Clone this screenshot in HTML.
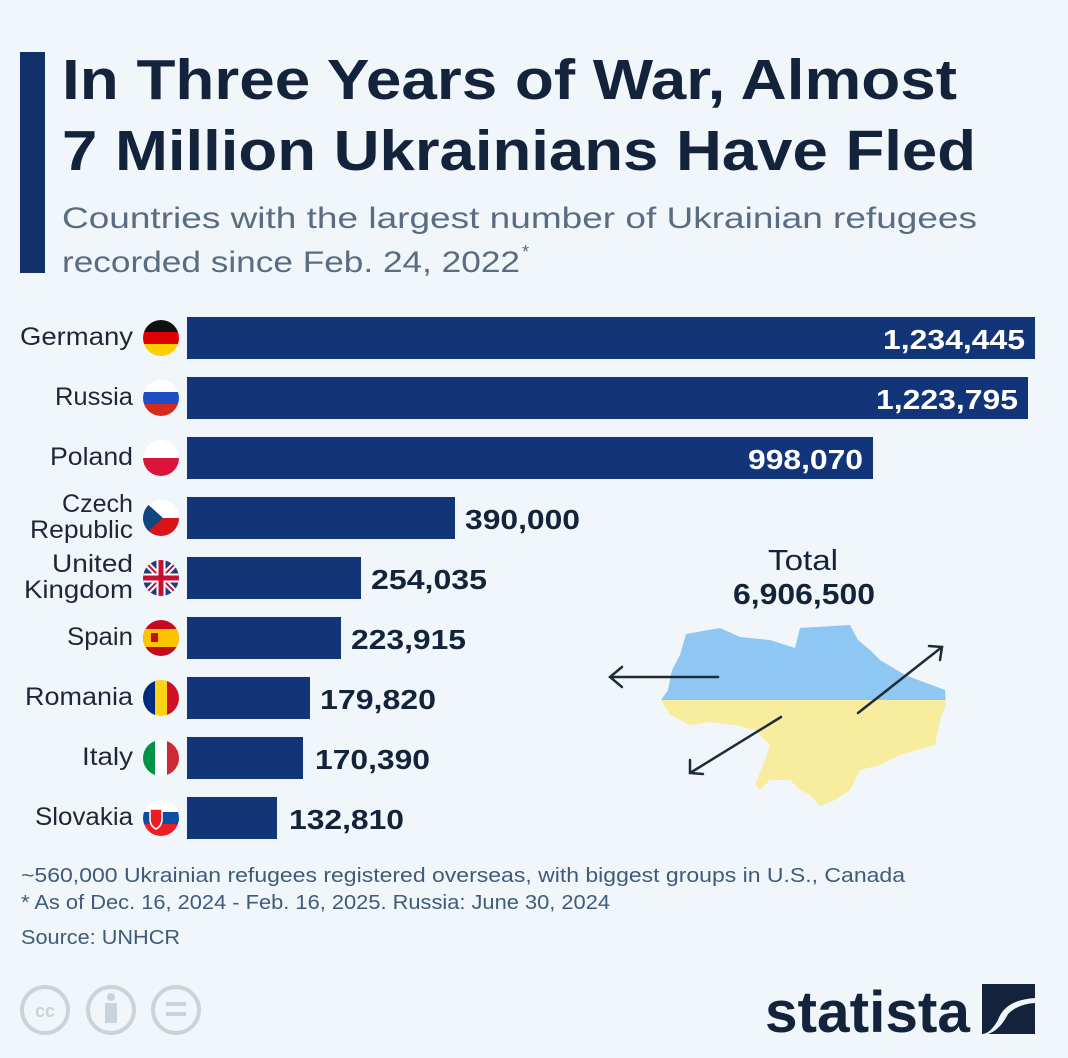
<!DOCTYPE html>
<html><head><meta charset="utf-8"><style>
html,body{margin:0;padding:0;background:#f1f6fa;}
svg{display:block;font-family:"Liberation Sans",sans-serif;}
</style></head><body>
<svg width="1068" height="1058" viewBox="0 0 1068 1058" xmlns="http://www.w3.org/2000/svg">
<rect width="1068" height="1058" fill="#f1f6fa"/>
<rect x="20" y="52" width="25" height="221" fill="#12316b"/>
<g fill="#14233c" font-weight="bold" font-size="57">
<text x="62" y="99" textLength="895" lengthAdjust="spacingAndGlyphs">In Three Years of War, Almost</text>
<text x="62" y="170" textLength="914" lengthAdjust="spacingAndGlyphs">7 Million Ukrainians Have Fled</text>
</g>
<g fill="#5a6c82" font-size="30">
<text x="62" y="228" textLength="915" lengthAdjust="spacingAndGlyphs">Countries with the largest number of Ukrainian refugees</text>
<text x="62" y="272" textLength="458" lengthAdjust="spacingAndGlyphs">recorded since Feb. 24, 2022</text>
<text x="522" y="258" font-size="18">*</text>
</g>
<g fill="#12357a">
<rect x="187" y="317" width="848" height="42"/>
<rect x="187" y="377" width="841" height="42"/>
<rect x="187" y="437" width="686" height="42"/>
<rect x="187" y="497" width="268" height="42"/>
<rect x="187" y="557" width="174" height="42"/>
<rect x="187" y="617" width="154" height="42"/>
<rect x="187" y="677" width="123" height="42"/>
<rect x="187" y="737" width="116" height="42"/>
<rect x="187" y="797" width="90" height="42"/>
</g>
<g font-weight="bold" font-size="28">
<text x="883" y="349" fill="#fff" textLength="142" lengthAdjust="spacingAndGlyphs">1,234,445</text>
<text x="876" y="409" fill="#fff" textLength="142" lengthAdjust="spacingAndGlyphs">1,223,795</text>
<text x="748" y="469" fill="#fff" textLength="115" lengthAdjust="spacingAndGlyphs">998,070</text>
<g fill="#14233c">
<text x="465" y="529" textLength="115" lengthAdjust="spacingAndGlyphs">390,000</text>
<text x="371" y="589" textLength="116" lengthAdjust="spacingAndGlyphs">254,035</text>
<text x="351" y="649" textLength="115" lengthAdjust="spacingAndGlyphs">223,915</text>
<text x="320" y="709" textLength="116" lengthAdjust="spacingAndGlyphs">179,820</text>
<text x="315" y="769" textLength="115" lengthAdjust="spacingAndGlyphs">170,390</text>
<text x="289" y="829" textLength="115" lengthAdjust="spacingAndGlyphs">132,810</text>
</g>
</g>
<g fill="#1c2838" font-size="25">
<text x="20" y="345" textLength="113" lengthAdjust="spacingAndGlyphs">Germany</text>
<text x="55" y="405" textLength="78" lengthAdjust="spacingAndGlyphs">Russia</text>
<text x="50" y="465" textLength="83" lengthAdjust="spacingAndGlyphs">Poland</text>
<text x="62" y="512" textLength="71" lengthAdjust="spacingAndGlyphs">Czech</text>
<text x="30" y="538" textLength="103" lengthAdjust="spacingAndGlyphs">Republic</text>
<text x="52" y="572" textLength="81" lengthAdjust="spacingAndGlyphs">United</text>
<text x="24" y="598" textLength="109" lengthAdjust="spacingAndGlyphs">Kingdom</text>
<text x="67" y="645" textLength="66" lengthAdjust="spacingAndGlyphs">Spain</text>
<text x="25" y="705" textLength="108" lengthAdjust="spacingAndGlyphs">Romania</text>
<text x="82" y="765" textLength="51" lengthAdjust="spacingAndGlyphs">Italy</text>
<text x="35" y="825" textLength="98" lengthAdjust="spacingAndGlyphs">Slovakia</text>
</g>
<defs>
<clipPath id="c1"><circle cx="0" cy="0" r="18"/></clipPath>
</defs>
<g transform="translate(161,338)" clip-path="url(#c1)"><rect x="-18" y="-18" width="36" height="12" fill="#111"/><rect x="-18" y="-6" width="36" height="12" fill="#dd0000"/><rect x="-18" y="6" width="36" height="12" fill="#ffce00"/></g>
<g transform="translate(161,398)" clip-path="url(#c1)"><rect x="-18" y="-18" width="36" height="12" fill="#fff"/><rect x="-18" y="-6" width="36" height="12" fill="#1f4fc4"/><rect x="-18" y="6" width="36" height="12" fill="#d52b1e"/></g>
<g transform="translate(161,458)" clip-path="url(#c1)"><rect x="-18" y="-18" width="36" height="18" fill="#fff"/><rect x="-18" y="0" width="36" height="18" fill="#dc143c"/></g>
<g transform="translate(161,518)" clip-path="url(#c1)"><rect x="-18" y="-18" width="36" height="18" fill="#fff"/><rect x="-18" y="0" width="36" height="18" fill="#d7141a"/><polygon points="-18,-18 2,0 -18,18" fill="#11457e"/></g>
<g transform="translate(161,578)" clip-path="url(#c1)"><rect x="-18" y="-18" width="36" height="36" fill="#1f3c88"/><path d="M-18,-18L18,18M18,-18L-18,18" stroke="#fff" stroke-width="6"/><path d="M-18,-18L18,18M18,-18L-18,18" stroke="#c8102e" stroke-width="2"/><path d="M0,-18V18M-18,0H18" stroke="#fff" stroke-width="9"/><path d="M0,-18V18M-18,0H18" stroke="#c8102e" stroke-width="5"/></g>
<g transform="translate(161,638)" clip-path="url(#c1)"><rect x="-18" y="-18" width="36" height="36" fill="#c60b1e"/><rect x="-18" y="-9" width="36" height="18" fill="#ffc400"/><rect x="-10" y="-5" width="7" height="9" fill="#c60b1e"/></g>
<g transform="translate(161,698)" clip-path="url(#c1)"><rect x="-18" y="-18" width="12" height="36" fill="#002b7f"/><rect x="-6" y="-18" width="12" height="36" fill="#fcd116"/><rect x="6" y="-18" width="12" height="36" fill="#ce1126"/></g>
<g transform="translate(161,758)" clip-path="url(#c1)"><rect x="-18" y="-18" width="12" height="36" fill="#009246"/><rect x="-6" y="-18" width="12" height="36" fill="#fff"/><rect x="6" y="-18" width="12" height="36" fill="#ce2b37"/></g>
<g transform="translate(161,818)" clip-path="url(#c1)"><rect x="-18" y="-18" width="36" height="12" fill="#fff"/><rect x="-18" y="-6" width="36" height="12" fill="#0b4ea2"/><rect x="-18" y="6" width="36" height="12" fill="#ee1c25"/><path d="M-11,-9h12v10q0,7-6,10q-6-3-6-10z" fill="#ee1c25" stroke="#fff" stroke-width="1.5"/></g>
<text x="768" y="570" font-size="29" fill="#14233c" textLength="70" lengthAdjust="spacingAndGlyphs">Total</text>
<text x="733" y="604" font-size="29" font-weight="bold" fill="#14233c" textLength="142" lengthAdjust="spacingAndGlyphs">6,906,500</text>
<defs><clipPath id="m"><path d="M686,634 L720,628 L740,637 L770,640 L795,648 L800,628 L850,625 L858,640 L870,650 L880,660 L905,675 L945,690 L946,705 L940,720 L935,745 L900,755 L880,765 L860,770 L850,790 L835,800 L820,806 L810,795 L800,790 L790,780 L770,780 L760,790 L755,785 L765,760 L770,745 L755,730 L735,725 L710,722 L690,725 L670,715 L661,700 L668,690 L672,670 L680,655 Z"/></clipPath></defs>
<g clip-path="url(#m)"><rect x="650" y="600" width="310" height="100" fill="#8fc7f3"/><rect x="650" y="700" width="310" height="120" fill="#f8ec9f"/></g>
<g stroke="#1d2b3c" stroke-width="2.5" fill="none" stroke-linecap="round">
<path d="M718,677 H612"/><path d="M622,667 L610,677 L622,687"/>
<path d="M858,713 L942,647"/><path d="M929,646 L942,647 L940,660"/>
<path d="M781,717 L690,773"/><path d="M690,760 L690,773 L703,774"/>
</g>
<g fill="#3f5b7b" font-size="20">
<text x="21" y="882" textLength="884" lengthAdjust="spacingAndGlyphs">~560,000 Ukrainian refugees registered overseas, with biggest groups in U.S., Canada</text>
<text x="21" y="909" textLength="589" lengthAdjust="spacingAndGlyphs">* As of Dec. 16, 2024 - Feb. 16, 2025. Russia: June 30, 2024</text>
<text x="21" y="944" textLength="159" lengthAdjust="spacingAndGlyphs">Source: UNHCR</text>
</g>
<g stroke="#c9d3dc" stroke-width="4" fill="none">
<circle cx="45" cy="1010" r="23"/><circle cx="111" cy="1010" r="23"/><circle cx="176" cy="1010" r="23"/>
</g>
<text x="45" y="1017" text-anchor="middle" font-size="18" font-weight="bold" fill="#c9d3dc">cc</text>
<circle cx="111" cy="997" r="4" fill="#c9d3dc"/><rect x="105" y="1003" width="12" height="20" fill="#c9d3dc"/>
<rect x="166" y="1002" width="20" height="4" fill="#c9d3dc"/><rect x="166" y="1012" width="20" height="4" fill="#c9d3dc"/>
<text x="765" y="1032" font-size="58" font-weight="bold" fill="#14233c" textLength="205" lengthAdjust="spacingAndGlyphs">statista</text>
<path d="M982,984 H1035 V998 Q1005,1000 998,1020 Q990,1034 982,1034 Z M1035,1034 H988 Q1000,1030 1008,1014 Q1018,1004 1035,1003 Z" fill="#14233c"/>
</svg>
</body></html>
